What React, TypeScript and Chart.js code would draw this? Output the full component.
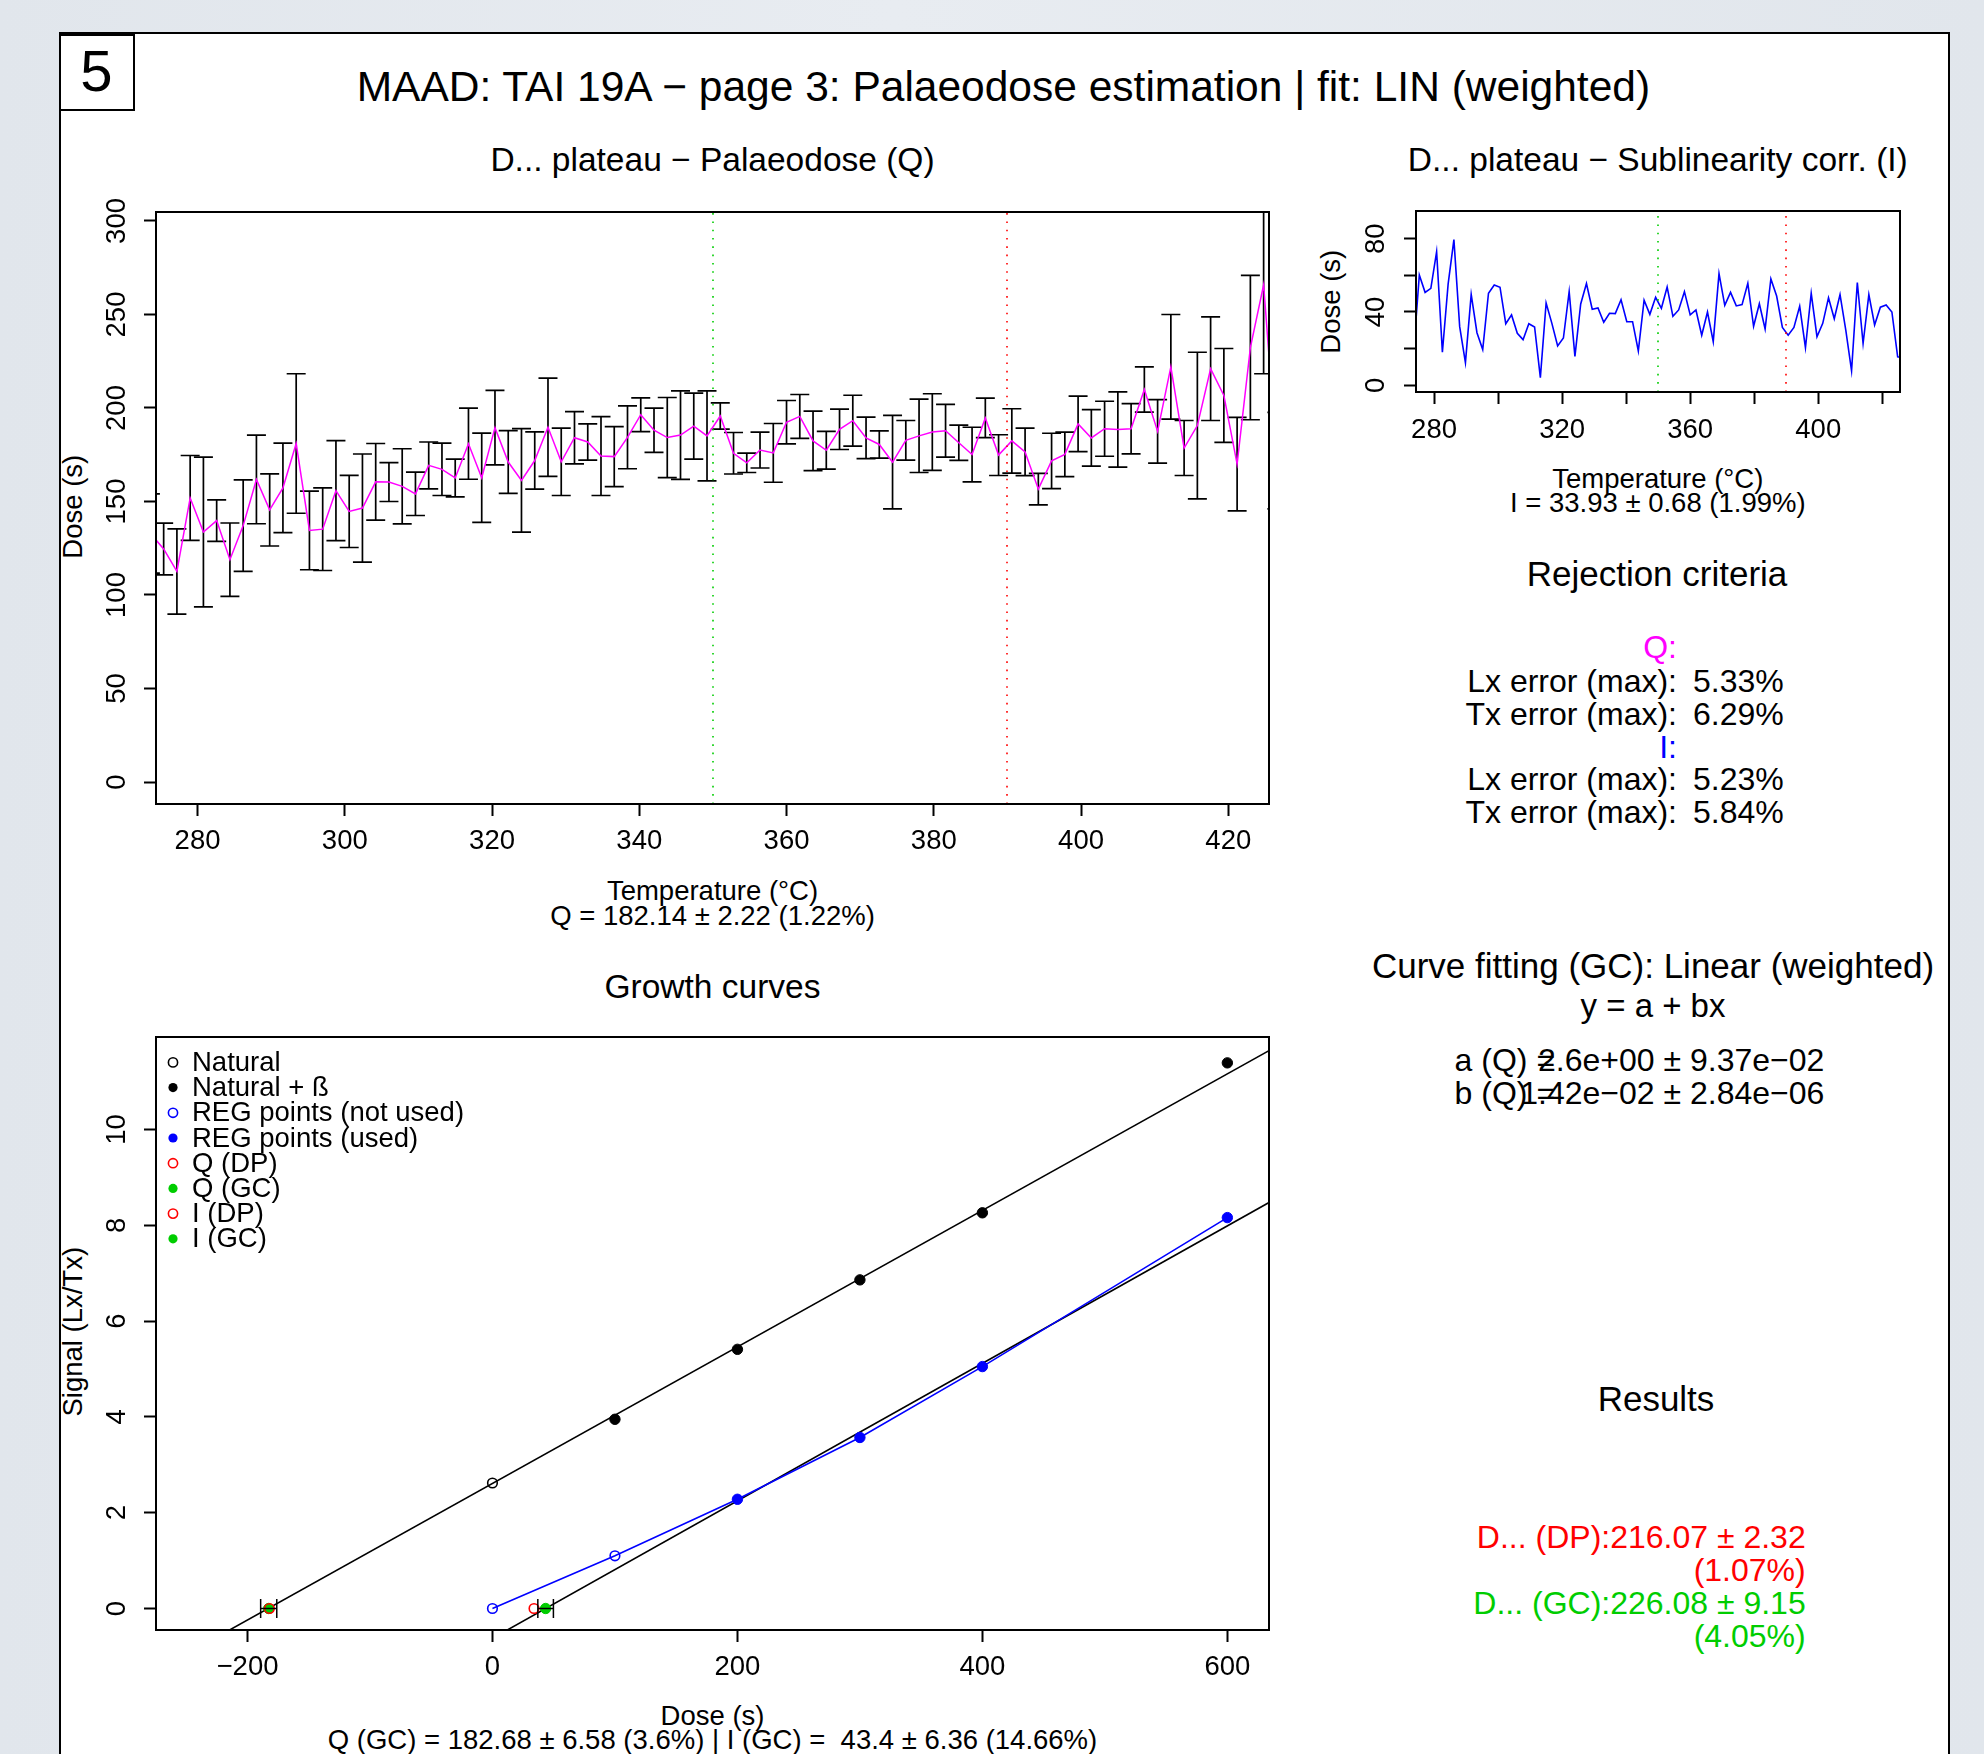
import React, { useEffect, useRef } from 'react';
import { Chart, registerables } from 'chart.js';

Chart.register(...registerables);

const FONT = '"Liberation Sans", Arial, Helvetica, sans-serif';
const GREEN = '#00cd00';
const MAGENTA = '#ff00ff';
const BLUE = '#0000ff';
const RED = '#ff0000';
const BASE = 27.5;

// ---------------- De plateau data ----------------
const temperatures = [
  273.6, 275.4, 277.2, 279.0, 280.8, 282.6, 284.4, 286.2, 288.0, 289.8,
  291.6, 293.4, 295.2, 297.0, 298.8, 300.6, 302.4, 304.2, 306.0, 307.8,
  309.6, 311.4, 313.2, 315.0, 316.8, 318.6, 320.4, 322.2, 324.0, 325.8,
  327.6, 329.4, 331.2, 333.0, 334.8, 336.6, 338.4, 340.2, 342.0, 343.8,
  345.6, 347.4, 349.2, 351.0, 352.8, 354.6, 356.4, 358.2, 360.0, 361.8,
  363.6, 365.4, 367.2, 369.0, 370.8, 372.6, 374.4, 376.2, 378.0, 379.8,
  381.6, 383.4, 385.2, 387.0, 388.8, 390.6, 392.4, 394.2, 396.0, 397.8,
  399.6, 401.4, 403.2, 405.0, 406.8, 408.6, 410.4, 412.2, 414.0, 415.8,
  417.6, 419.4, 421.2, 423.0, 424.8, 426.6,
];

const palaeodoseQ = [
  132.9, 124.6, 112.6, 151.9, 133.7, 139.8, 118.9, 137.1, 161.8, 145.5,
  157.3, 181.0, 134.5, 135.2, 155.8, 144.7, 146.5, 160.5, 160.4, 158.1,
  154.1, 169.3, 167.2, 162.6, 180.9, 162.7, 189.5, 171.1, 161.3, 171.9,
  189.7, 171.2, 184.1, 181.8, 174.3, 174.0, 184.3, 196.4, 188.1, 184.2,
  185.5, 190.3, 185.1, 195.7, 175.8, 170.7, 177.5, 176.0, 192.4, 195.5,
  182.4, 177.4, 188.6, 193.2, 184.0, 180.5, 171.0, 182.7, 185.1, 187.1,
  187.8, 181.4, 175.1, 194.7, 174.8, 182.4, 176.5, 156.6, 171.7, 175.2,
  191.5, 184.0, 188.9, 188.5, 188.9, 209.9, 187.5, 222.0, 178.6, 190.6,
  221.0, 206.7, 170.0, 232.3, 265.9, 171.9,
];

const palaeodoseQErr = [
  21.2, 13.8, 22.8, 22.7, 40.0, 11.1, 19.6, 24.5, 23.7, 19.3,
  23.9, 37.3, 21.0, 22.1, 26.7, 19.3, 28.9, 20.5, 10.4, 20.1,
  11.6, 12.5, 14.0, 10.1, 19.0, 23.9, 19.9, 16.8, 27.7, 15.3,
  26.3, 18.0, 14.0, 9.7, 21.1, 16.0, 16.8, 9.0, 11.8, 21.4,
  23.7, 17.6, 24.1, 7.0, 11.1, 5.2, 9.6, 15.7, 11.6, 11.7,
  15.9, 10.1, 10.8, 13.6, 11.1, 7.3, 25.0, 10.6, 19.6, 20.5,
  14.1, 9.4, 14.6, 10.6, 10.9, 17.2, 12.7, 8.4, 14.8, 11.9,
  14.8, 15.1, 14.7, 20.1, 13.4, 12.1, 17.0, 28.0, 14.7, 39.2,
  27.7, 25.1, 25.0, 38.6, 47.6, 25.8,
];

const sublinearityI = [
  18.2, 60.2, 50.7, 52.9, 72.9, 18.0, 55.3, 79.5, 32.0, 12.4,
  49.6, 28.7, 19.5, 50.2, 54.7, 53.5, 33.6, 38.4, 28.4, 24.9,
  33.6, 31.8, 4.2, 44.9, 33.8, 21.5, 25.8, 51.1, 15.8, 44.4,
  55.5, 41.5, 42.2, 34.4, 39.3, 39.1, 46.7, 34.7, 34.7, 18.7,
  46.4, 38.7, 48.0, 42.0, 53.6, 37.6, 41.1, 51.1, 38.4, 41.1,
  27.3, 40.0, 23.8, 60.9, 43.6, 50.7, 43.3, 44.0, 55.6, 32.2,
  44.5, 30.7, 58.0, 48.7, 31.6, 27.3, 31.6, 43.1, 20.5, 50.2,
  26.5, 33.8, 47.7, 36.3, 49.5, 30.1, 7.9, 56.1, 22.8, 49.5,
  32.9, 42.6, 43.8, 40.0, 15.5, 15.0,
];

const plateauLimits = [350, 390];

const tempTicks = [280, 300, 320, 340, 360, 380, 400, 420];
const tempTickLabelsQ = ['280', '300', '320', '340', '360', '380', '400', '420'];
const tempTickLabelsI = ['280', '', '320', '', '360', '', '400', ''];
const doseTicksQ = [0, 50, 100, 150, 200, 250, 300];
const doseTickLabelsQ = ['0', '50', '100', '150', '200', '250', '300'];
const doseTicksI = [0, 20, 40, 60, 80];
const doseTickLabelsI = ['0', '', '40', '', '80'];

// ---------------- Growth curve data ----------------
const naturalDose = [0];
const naturalSignal = [2.62];
const natBetaDose = [100, 200, 300, 400, 600];
const natBetaSignal = [3.95, 5.41, 6.86, 8.26, 11.39];
const regDose = [0, 100, 200, 300, 400, 600];
const regSignal = [0.0, 1.1, 2.28, 3.57, 5.05, 8.16];
const regUsed = [false, false, true, true, true, true];
const fitIntercepts = [2.61, -0.6228];
const fitSlopes = [0.01425, 0.01435];
const dpDoses = [-182.14, 33.93];
const gcDoses = [-182.68, 43.4];
const gcErrors = [6.58, 6.36];
const deSignal = [0, 0];
const growthDoseTicks = [-200, 0, 200, 400, 600];
const growthDoseLabels = ['\u2212200', '0', '200', '400', '600'];
const growthSignalTicks = [0, 2, 4, 6, 8, 10];
const growthSignalLabels = ['0', '2', '4', '6', '8', '10'];
const legendLabels = [
  'Natural',
  'Natural + \u00df',
  'REG points (not used)',
  'REG points (used)',
  'Q (DP)',
  'Q (GC)',
  'I (DP)',
  'I (GC)',
];

// legend marker styles (not data)
const legendStyles = [
  { color: '#000', filled: false },
  { color: '#000', filled: true },
  { color: BLUE, filled: false },
  { color: BLUE, filled: true },
  { color: RED, filled: false },
  { color: GREEN, filled: true },
  { color: RED, filled: false },
  { color: GREEN, filled: true },
];

type Frame = {
  w: number;
  h: number;
  yAxisW: number;
  xAxisH: number;
  padTop: number;
  padRight: number;
  xMin: number;
  xMax: number;
  yMin: number;
  yMax: number;
  xTicks: number[];
  xLabels: string[];
  yTicks: number[];
  yLabels: string[];
  yLabelOffset: number;
  xLabelPad: number;
};

function gridOpts() {
  return {
    display: true,
    drawOnChartArea: false,
    drawTicks: true,
    tickLength: 12,
    tickWidth: 2,
    tickColor: '#000',
    color: '#000',
  };
}

function frameScales(f: Frame) {
  return {
    x: {
      type: 'linear',
      min: f.xMin,
      max: f.xMax,
      bounds: 'data',
      afterBuildTicks: (s: any) => {
        s.ticks = f.xTicks.map((v) => ({ value: v }));
      },
      afterFit: (s: any) => {
        s.height = f.xAxisH;
      },
      grid: gridOpts(),
      border: { display: false },
      ticks: {
        autoSkip: false,
        maxRotation: 0,
        minRotation: 0,
        padding: f.xLabelPad,
        color: '#000',
        font: { family: FONT, size: BASE },
        callback: (_v: any, i: number) => f.xLabels[i],
      },
    },
    y: {
      type: 'linear',
      min: f.yMin,
      max: f.yMax,
      bounds: 'data',
      afterBuildTicks: (s: any) => {
        s.ticks = f.yTicks.map((v) => ({ value: v }));
      },
      afterFit: (s: any) => {
        s.width = f.yAxisW;
      },
      grid: gridOpts(),
      border: { display: false },
      ticks: { display: false },
    },
  };
}

function framePlugin(f: Frame) {
  return {
    id: 'rFrame',
    afterDraw(chart: any) {
      const { ctx, chartArea: a } = chart;
      const ys = chart.scales.y;
      ctx.save();
      ctx.strokeStyle = '#000';
      ctx.lineWidth = 2;
      ctx.setLineDash([]);
      ctx.strokeRect(a.left, a.top, a.right - a.left, a.bottom - a.top);
      ctx.fillStyle = '#000';
      ctx.font = `${BASE}px ${FONT}`;
      ctx.textAlign = 'center';
      ctx.textBaseline = 'middle';
      ys.ticks.forEach((t: any, i: number) => {
        const label = f.yLabels[i];
        if (!label) return;
        ctx.save();
        ctx.translate(a.left - f.yLabelOffset, ys.getPixelForValue(t.value));
        ctx.rotate(-Math.PI / 2);
        ctx.fillText(label, 0, 0);
        ctx.restore();
      });
      ctx.restore();
    },
  };
}

const plateauPlugin = {
  id: 'plateauLines',
  afterDatasetsDraw(chart: any) {
    const { ctx, chartArea: a } = chart;
    const x = chart.scales.x;
    ctx.save();
    ctx.lineWidth = 1.6;
    ctx.setLineDash([1.6, 6.7]);
    plateauLimits.forEach((t, i) => {
      ctx.strokeStyle = i === 0 ? GREEN : RED;
      const px = Math.round(x.getPixelForValue(t));
      ctx.beginPath();
      ctx.moveTo(px, a.bottom);
      ctx.lineTo(px, a.top);
      ctx.stroke();
    });
    ctx.restore();
  },
};

const errorBarPlugin = {
  id: 'errBars',
  beforeDatasetsDraw(chart: any) {
    const { ctx, chartArea: a } = chart;
    const { x, y } = chart.scales;
    ctx.save();
    ctx.beginPath();
    ctx.rect(a.left, a.top, a.right - a.left, a.bottom - a.top);
    ctx.clip();
    ctx.strokeStyle = '#000';
    ctx.lineWidth = 1.7;
    temperatures.forEach((t, i) => {
      const px = x.getPixelForValue(t);
      const top = y.getPixelForValue(palaeodoseQ[i] + palaeodoseQErr[i]);
      const bot = y.getPixelForValue(palaeodoseQ[i] - palaeodoseQErr[i]);
      ctx.beginPath();
      ctx.moveTo(px, top);
      ctx.lineTo(px, bot);
      ctx.moveTo(px - 9.5, top);
      ctx.lineTo(px + 9.5, top);
      ctx.moveTo(px - 9.5, bot);
      ctx.lineTo(px + 9.5, bot);
      ctx.stroke();
    });
    ctx.restore();
  },
};

const growthPlugin = {
  id: 'growthExtras',
  afterDatasetsDraw(chart: any) {
    const { ctx, chartArea: a } = chart;
    const { x, y } = chart.scales;
    ctx.save();
    ctx.strokeStyle = '#000';
    ctx.lineWidth = 1.5;
    gcDoses.forEach((d, i) => {
      const y0 = y.getPixelForValue(deSignal[i]);
      const l = x.getPixelForValue(d - gcErrors[i]);
      const r = x.getPixelForValue(d + gcErrors[i]);
      ctx.beginPath();
      ctx.moveTo(l, y0);
      ctx.lineTo(r, y0);
      ctx.moveTo(l, y0 - 9.4);
      ctx.lineTo(l, y0 + 9.4);
      ctx.moveTo(r, y0 - 9.4);
      ctx.lineTo(r, y0 + 9.4);
      ctx.stroke();
    });
    ctx.font = `${BASE}px ${FONT}`;
    ctx.textBaseline = 'middle';
    ctx.textAlign = 'left';
    legendLabels.forEach((lbl, i) => {
      const cy = a.top + 25.4 + i * 25.2;
      const cx = a.left + 17;
      const st = legendStyles[i];
      ctx.beginPath();
      ctx.arc(cx, cy, 4.6, 0, Math.PI * 2);
      if (st.filled) {
        ctx.fillStyle = st.color;
        ctx.fill();
      } else {
        ctx.strokeStyle = st.color;
        ctx.lineWidth = 1.6;
        ctx.stroke();
      }
      ctx.fillStyle = '#000';
      ctx.fillText(lbl, a.left + 36, cy + 1);
    });
    ctx.restore();
  },
};

function baseOptions(f: Frame) {
  return {
    responsive: false,
    animation: false,
    devicePixelRatio: 1,
    events: [],
    layout: { padding: { left: 0, top: f.padTop, right: f.padRight, bottom: 0 } },
    plugins: { legend: { display: false }, tooltip: { enabled: false }, title: { display: false } },
    scales: frameScales(f),
  };
}

// ---------------- frames ----------------
const frameQ: Frame = {
  w: 1195, h: 670, yAxisW: 66, xAxisH: 61, padTop: 17, padRight: 16,
  xMin: 274.36, xMax: 425.53, yMin: -11.76, yMax: 304.8,
  xTicks: tempTicks, xLabels: tempTickLabelsQ, yTicks: doseTicksQ, yLabels: doseTickLabelsQ,
  yLabelOffset: 38.3, xLabelPad: 8.5,
};

const frameI: Frame = {
  w: 565, h: 250, yAxisW: 66, xAxisH: 53, padTop: 16, padRight: 15,
  xMin: 274.36, xMax: 425.53, yMin: -3.66, yMax: 95.1,
  xTicks: tempTicks, xLabels: tempTickLabelsI, yTicks: doseTicksI, yLabels: doseTickLabelsI,
  yLabelOffset: 39.2, xLabelPad: 9.5,
};

const frameG: Frame = {
  w: 1195, h: 670, yAxisW: 66, xAxisH: 60, padTop: 17, padRight: 16,
  xMin: -274.7, xMax: 634.0, yMin: -0.449, yMax: 11.93,
  xTicks: growthDoseTicks, xLabels: growthDoseLabels, yTicks: growthSignalTicks, yLabels: growthSignalLabels,
  yLabelOffset: 38.3, xLabelPad: 8.5,
};

const pts = (xs: number[], ys: number[]) => xs.map((v, i) => ({ x: v, y: ys[i] }));

function configQ() {
  return {
    type: 'line',
    data: {
      datasets: [
        {
          data: pts(temperatures, palaeodoseQ),
          borderColor: MAGENTA,
          borderWidth: 1.5,
          pointRadius: 0,
          tension: 0,
          fill: false,
          clip: 0,
        },
      ],
    },
    options: baseOptions(frameQ),
    plugins: [errorBarPlugin, plateauPlugin, framePlugin(frameQ)],
  };
}

function configI() {
  return {
    type: 'line',
    data: {
      datasets: [
        {
          data: pts(temperatures, sublinearityI),
          borderColor: BLUE,
          borderWidth: 1.6,
          pointRadius: 0,
          tension: 0,
          fill: false,
          clip: 0,
        },
      ],
    },
    options: baseOptions(frameI),
    plugins: [plateauPlugin, framePlugin(frameI)],
  };
}

function configG() {
  const fitLine = (k: number) =>
    [frameG.xMin, frameG.xMax].map((v) => ({ x: v, y: fitIntercepts[k] + fitSlopes[k] * v }));
  const open = 'rgba(0,0,0,0)';
  return {
    type: 'scatter',
    data: {
      datasets: [
        {
          data: pts(dpDoses, deSignal),
          pointRadius: 4.8, pointHoverRadius: 4.8, pointBorderWidth: 1.6,
          pointBorderColor: RED, pointBackgroundColor: open, clip: 0,
        },
        {
          data: pts(gcDoses, deSignal),
          pointRadius: 5.2, pointHoverRadius: 5.2, pointBorderWidth: 1,
          pointBorderColor: GREEN, pointBackgroundColor: GREEN, clip: 0,
        },
        {
          data: pts(natBetaDose, natBetaSignal),
          pointRadius: 5.2, pointHoverRadius: 5.2, pointBorderWidth: 1,
          pointBorderColor: '#000', pointBackgroundColor: '#000', clip: 0,
        },
        {
          data: pts(naturalDose, naturalSignal),
          pointRadius: 4.8, pointHoverRadius: 4.8, pointBorderWidth: 1.6,
          pointBorderColor: '#000', pointBackgroundColor: open, clip: 0,
        },
        {
          data: pts(regDose, regSignal),
          pointRadius: regUsed.map((u) => (u ? 5.2 : 4.8)),
          pointHoverRadius: 5.2,
          pointBorderWidth: regUsed.map((u) => (u ? 1 : 1.6)),
          pointBorderColor: BLUE,
          pointBackgroundColor: regUsed.map((u) => (u ? BLUE : open)),
          clip: 0,
        },
        {
          data: pts(regDose, regSignal),
          showLine: true, borderColor: BLUE, borderWidth: 1.6, pointRadius: 0, tension: 0, clip: 0,
        },
        {
          data: fitLine(1),
          showLine: true, borderColor: '#000', borderWidth: 1.6, pointRadius: 0, tension: 0, clip: 0,
        },
        {
          data: fitLine(0),
          showLine: true, borderColor: '#000', borderWidth: 1.6, pointRadius: 0, tension: 0, clip: 0,
        },
      ],
    },
    options: baseOptions(frameG),
    plugins: [growthPlugin, framePlugin(frameG)],
  };
}

function RChart({ left, top, frame, make }: { left: number; top: number; frame: Frame; make: () => any }) {
  const ref = useRef<HTMLCanvasElement | null>(null);
  useEffect(() => {
    if (!ref.current) return;
    const chart = new Chart(ref.current, make());
    return () => chart.destroy();
  }, []);
  return (
    <canvas
      ref={ref}
      width={frame.w}
      height={frame.h}
      style={{ position: 'absolute', left, top, width: frame.w, height: frame.h }}
    />
  );
}

function Txt({
  x, y, size = BASE, align = 'center', color = '#000', rotate = false, children,
}: {
  x: number; y: number; size?: number; align?: 'left' | 'center' | 'right'; color?: string; rotate?: boolean; children: any;
}) {
  const shift = align === 'center' ? '-50%' : align === 'right' ? '-100%' : '0%';
  return (
    <div
      style={{
        position: 'absolute',
        left: x,
        top: y - size / 2,
        fontSize: size,
        lineHeight: `${size}px`,
        fontFamily: FONT,
        color,
        whiteSpace: 'pre',
        transform: rotate ? 'translateX(-50%) rotate(-90deg)' : `translateX(${shift})`,
      }}
    >
      {children}
    </div>
  );
}

export default function App() {
  const H1 = 35;
  const V = 32;
  return (
    <div
      style={{
        position: 'absolute',
        left: 0,
        top: 0,
        width: 1984,
        height: 1754,
        overflow: 'hidden',
        background: 'linear-gradient(90deg, #e1e6ec 0%, #e8ecf1 45%, #e1e6ec 100%)',
        fontFamily: FONT,
      }}
    >
      <div
        style={{
          position: 'absolute', left: 59, top: 32, width: 1891, height: 1800,
          background: '#fff', border: '2px solid #000', boxSizing: 'border-box',
        }}
      />
      <div
        style={{
          position: 'absolute', left: 59, top: 34, width: 76, height: 77,
          border: '2px solid #000', boxSizing: 'border-box', background: '#fff',
        }}
      />
      <Txt x={96.5} y={71} size={58}>5</Txt>

      <Txt x={1003.4} y={87.5} size={42.5}>MAAD: TAI 19A − page 3: Palaeodose estimation | fit: LIN (weighted)</Txt>

      {/* plateau Q */}
      <Txt x={712.5} y={160} size={33.5}>D... plateau − Palaeodose (Q)</Txt>
      <RChart left={90} top={195} frame={frameQ} make={configQ} />
      <Txt x={73} y={507} rotate>Dose (s)</Txt>
      <Txt x={712.5} y={891}>Temperature (°C)</Txt>
      <Txt x={712.5} y={916}>Q = 182.14 ± 2.22 (1.22%)</Txt>

      {/* plateau I */}
      <Txt x={1657.8} y={160} size={33.5}>D... plateau − Sublinearity corr. (I)</Txt>
      <RChart left={1350} top={195} frame={frameI} make={configI} />
      <Txt x={1331} y={301.5} rotate>Dose (s)</Txt>
      <Txt x={1657.8} y={478.5}>Temperature (°C)</Txt>
      <Txt x={1657.8} y={503}>I = 33.93 ± 0.68 (1.99%)</Txt>

      {/* rejection criteria */}
      <Txt x={1657} y={573} size={H1}>Rejection criteria</Txt>
      <Txt x={1677} y={646.6} size={V} align="right" color={MAGENTA}>Q:</Txt>
      <Txt x={1677} y={680.7} size={V} align="right">Lx error (max):</Txt>
      <Txt x={1693} y={680.7} size={V} align="left">5.33%</Txt>
      <Txt x={1677} y={713.6} size={V} align="right">Tx error (max):</Txt>
      <Txt x={1693} y={713.6} size={V} align="left">6.29%</Txt>
      <Txt x={1677} y={746.5} size={V} align="right" color={BLUE}>I:</Txt>
      <Txt x={1677} y={779.4} size={V} align="right">Lx error (max):</Txt>
      <Txt x={1693} y={779.4} size={V} align="left">5.23%</Txt>
      <Txt x={1677} y={812.3} size={V} align="right">Tx error (max):</Txt>
      <Txt x={1693} y={812.3} size={V} align="left">5.84%</Txt>

      {/* curve fitting */}
      <Txt x={1653} y={965.5} size={H1}>Curve fitting (GC): Linear (weighted)</Txt>
      <Txt x={1653} y={1005.9} size={33}>y = a + bx</Txt>
      <Txt x={1454.6} y={1060.3} size={V} align="left">a (Q) =</Txt>
      <Txt x={1824.3} y={1060.3} size={V} align="right">2.6e+00 ± 9.37e−02</Txt>
      <Txt x={1454.6} y={1093.2} size={V} align="left">b (Q) =</Txt>
      <Txt x={1824.3} y={1093.2} size={V} align="right">1.42e−02 ± 2.84e−06</Txt>

      {/* results */}
      <Txt x={1656} y={1398.2} size={H1}>Results</Txt>
      <Txt x={1805.7} y={1537.3} size={V} align="right" color={RED}>D... (DP):216.07 ± 2.32</Txt>
      <Txt x={1805.7} y={1570.2} size={V} align="right" color={RED}>(1.07%)</Txt>
      <Txt x={1805.7} y={1603.1} size={V} align="right" color={GREEN}>D... (GC):226.08 ± 9.15</Txt>
      <Txt x={1805.7} y={1636} size={V} align="right" color={GREEN}>(4.05%)</Txt>

      {/* growth curves */}
      <Txt x={712.5} y={987} size={33.5}>Growth curves</Txt>
      <RChart left={90} top={1020} frame={frameG} make={configG} />
      <Txt x={73} y={1332} rotate>Signal (Lx/Tx)</Txt>
      <Txt x={712.5} y={1715.7}>Dose (s)</Txt>
      <Txt x={712.5} y={1739.8}>Q (GC) = 182.68 ± 6.58 (3.6%) | I (GC) =  43.4 ± 6.36 (14.66%)</Txt>
    </div>
  );
}
